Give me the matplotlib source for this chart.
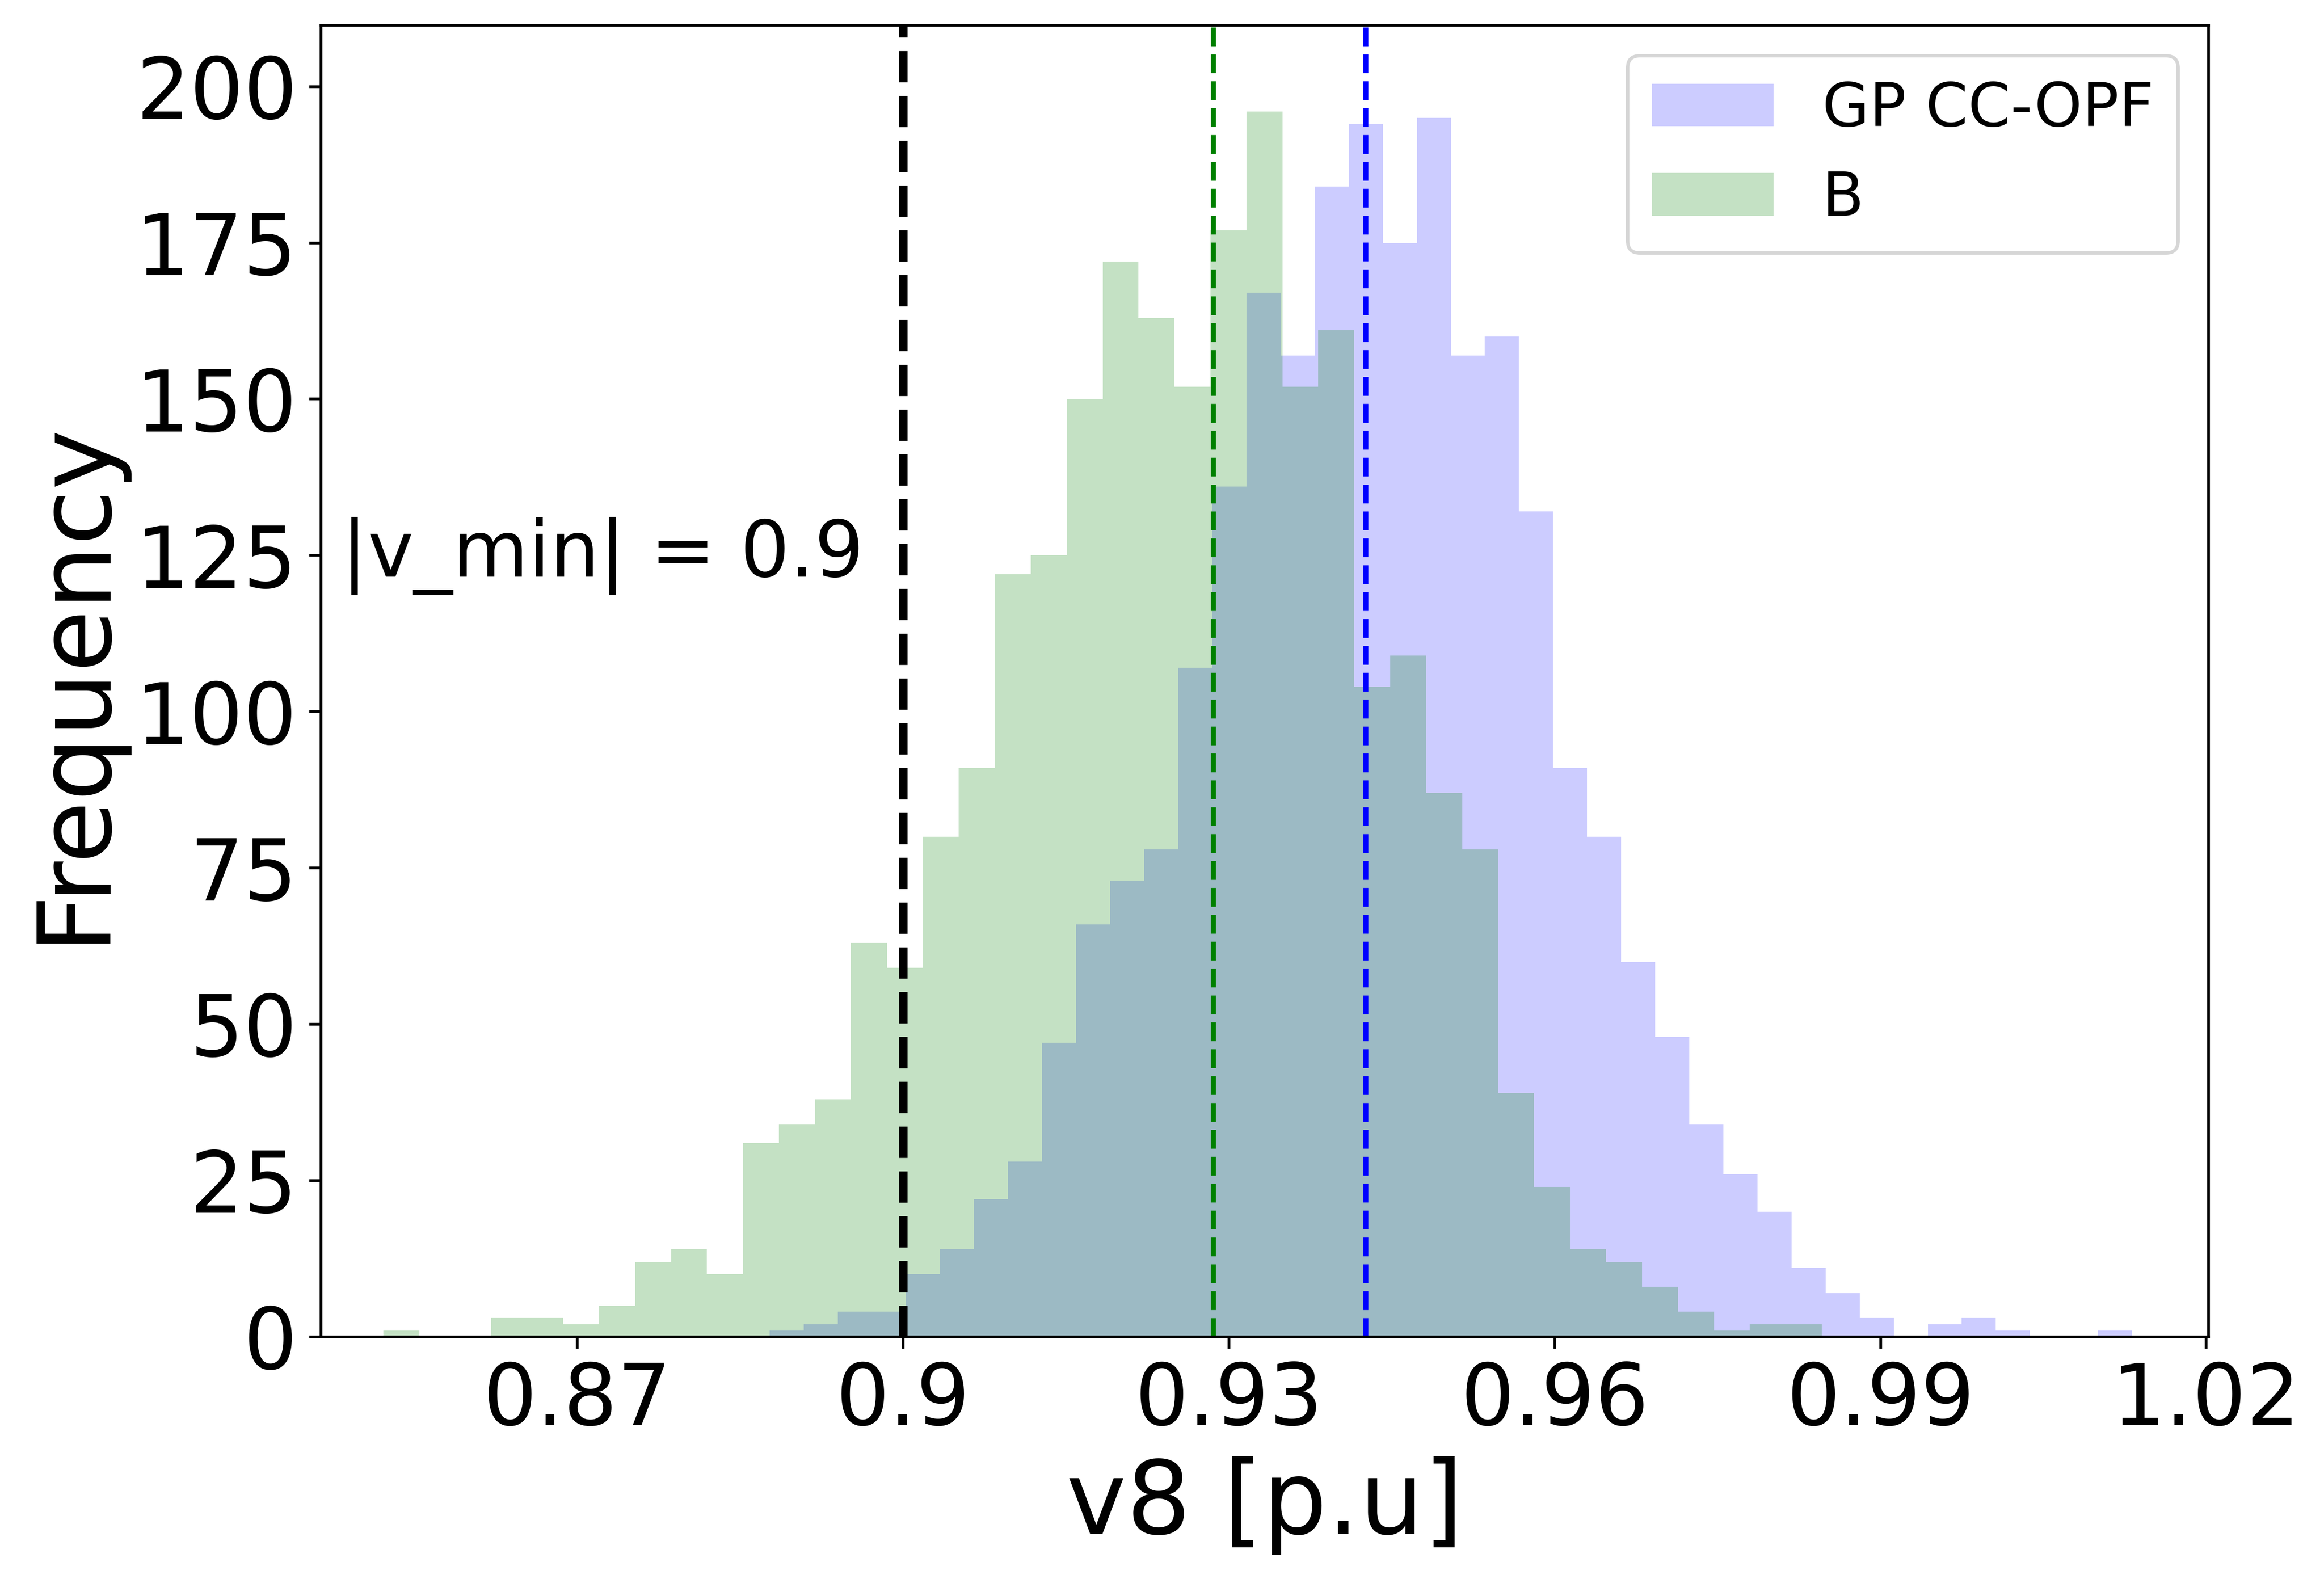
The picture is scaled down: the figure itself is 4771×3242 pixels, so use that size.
import numpy as np
import matplotlib.pyplot as plt

# histogram data (40 bins per series)
gp_range = (0.88771, 1.01317)
b_range = (0.85214, 0.98460)

gp_counts = [1, 2, 4, 4, 10, 14, 22, 28, 47, 66, 73, 78, 107, 136, 167, 157, 184, 194, 175, 195,
             157, 160, 132, 91, 80, 60, 48, 34, 26, 20, 11, 7, 3, 0, 2, 3, 1, 0, 0, 1]
b_counts = [1, 0, 0, 3, 3, 2, 5, 12, 14, 10, 31, 34, 38, 63, 59, 80, 91, 122, 125, 150,
            172, 163, 152, 177, 196, 152, 161, 104, 109, 87, 78, 39, 24, 14, 12, 8, 4, 1, 2, 2]

gp_mean = 0.94262
b_mean = 0.92858
v_min = 0.9

xticks = [0.87, 0.9, 0.93, 0.96, 0.99, 1.02]
xtick_labels = ["0.87", "0.9", "0.93", "0.96", "0.99", "1.02"]
yticks = [0, 25, 50, 75, 100, 125, 150, 175, 200]

gp_edges = np.linspace(gp_range[0], gp_range[1], len(gp_counts) + 1)
b_edges = np.linspace(b_range[0], b_range[1], len(b_counts) + 1)

fig, ax = plt.subplots(figsize=(4771 / 500, 3242 / 500))
fig.subplots_adjust(left=0.1381, right=0.9503, bottom=0.1534, top=0.9840)

ax.hist((gp_edges[:-1] + gp_edges[1:]) / 2, bins=gp_edges, weights=gp_counts,
        color='blue', alpha=0.2, label='GP CC-OPF')
ax.hist((b_edges[:-1] + b_edges[1:]) / 2, bins=b_edges, weights=b_counts,
        color='green', alpha=0.23, label='B')

ax.axvline(v_min, color='k', linestyle='--', linewidth=2.5)
ax.axvline(b_mean, color='green', linestyle='--', linewidth=1.5)
ax.axvline(gp_mean, color='blue', linestyle='--', linewidth=1.5)

ax.text(0.8483, 121.6, "|v_min| = 0.9", fontsize=23)

ax.set_xlim(0.8464, 1.0202)
ax.set_ylim(0, 209.8)
ax.set_xticks(xticks)
ax.set_xticklabels(xtick_labels)
ax.set_yticks(yticks)
ax.tick_params(labelsize=25)
ax.set_xlabel("v8 [p.u]", fontsize=30)
ax.set_ylabel("Frequency", fontsize=30)
ax.legend(loc='upper right', fontsize=18)

plt.savefig("out.png", dpi=500)
